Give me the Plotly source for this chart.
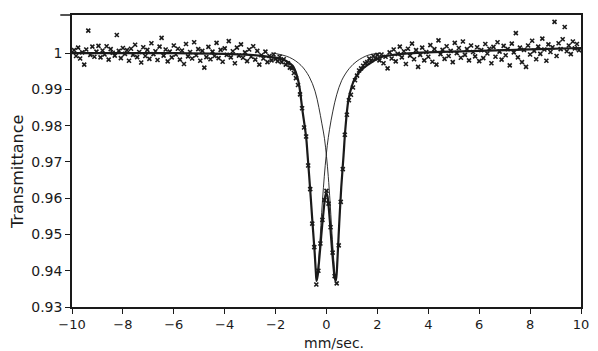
import numpy as np
import plotly.graph_objects as go

# ---- measured spectrum (channel velocities, mm/s) ----
v_start, v_step, n_ch = -9.92, 0.08, 249
velocity = np.round(v_start + v_step * np.arange(n_ch), 2)

transmission = [
    # -9.92 ... -2.00
    1.0008, 0.9992, 1.0015, 0.9985, 1.0002, 0.9968, 1.0010, 1.0062, 0.9995, 1.0018,
    0.9990, 1.0004, 1.0020, 0.9988, 1.0007, 0.9996, 1.0019, 0.9982, 1.0011, 1.0001,
    0.9993, 1.0050, 1.0006, 0.9986, 1.0014, 0.9998, 1.0008, 0.9979, 1.0012, 0.9995,
    1.0023, 0.9989, 1.0003, 0.9974, 1.0016, 0.9992, 1.0009, 0.9984, 1.0027, 0.9997,
    1.0005, 0.9981, 1.0018, 1.0042, 0.9993, 1.0010, 0.9977, 1.0004, 0.9988, 1.0021,
    0.9996, 1.0012, 0.9982, 1.0007, 0.9970, 1.0025, 0.9991, 1.0003, 0.9985, 1.0030,
    0.9994, 1.0011, 0.9979, 1.0006, 0.9960, 0.9989, 1.0017, 0.9983, 1.0004, 0.9992,
    1.0028, 0.9986, 1.0009, 0.9976, 1.0013, 0.9995, 1.0033, 0.9988, 1.0005, 0.9972,
    1.0015, 0.9993, 1.0024, 0.9987, 1.0002, 0.9978, 1.0010, 0.9990, 1.0019, 0.9982,
    1.0006, 0.9968, 0.9994, 0.9985, 1.0004, 0.9975, 0.9992, 0.9980, 0.9996, 0.9984,
    # -1.92 ... 2.00
    0.9978, 0.9990, 0.9975, 0.9983, 0.9968, 0.9972, 0.9960, 0.9958, 0.9945, 0.9931,
    0.9912, 0.9886, 0.9848, 0.9795, 0.9770, 0.9690, 0.9625, 0.9530, 0.9465, 0.9362,
    0.9400, 0.9475, 0.9540, 0.9595, 0.9620, 0.9585, 0.9520, 0.9450, 0.9385, 0.9365,
    0.9470, 0.9590, 0.9680, 0.9775, 0.9830, 0.9870, 0.9885, 0.9905, 0.9925, 0.9938,
    0.9952, 0.9958, 0.9965, 0.9972, 0.9975, 0.9985, 0.9980, 0.9992, 0.9985, 0.9995,
    # 2.08 ... 9.92
    0.9980, 0.9996, 0.9972, 0.9990, 0.9958, 1.0002, 0.9985, 1.0010, 0.9977, 0.9998,
    1.0018, 0.9988, 1.0005, 0.9970, 1.0012, 0.9993, 1.0026, 0.9983, 1.0008, 0.9962,
    0.9995, 1.0015, 0.9980, 1.0003, 0.9990, 1.0022, 0.9976, 1.0011, 0.9968, 1.0035,
    0.9997, 1.0009, 0.9984, 1.0019, 0.9992, 1.0006, 0.9975, 1.0028, 1.0000, 1.0014,
    0.9987, 1.0032, 0.9995, 1.0011, 0.9980, 1.0021, 1.0003, 0.9991, 1.0016, 0.9978,
    1.0008, 0.9986, 1.0025, 0.9999, 1.0012, 0.9972, 1.0017, 0.9990, 1.0030, 1.0004,
    0.9982, 1.0020, 0.9994, 1.0011, 0.9966, 1.0026, 1.0002, 1.0055, 0.9988, 1.0015,
    0.9975, 1.0009, 0.9962, 1.0021, 0.9996, 1.0034, 1.0006, 0.9983, 1.0018, 0.9998,
    1.0040, 1.0010, 0.9979, 1.0024, 1.0003, 1.0016, 1.0086, 0.9992, 1.0027, 1.0011,
    1.0038, 1.0072, 1.0005, 1.0021, 0.9997, 1.0032, 1.0013, 1.0025, 1.0008,
]

# ---- total fit (thick line) ----
fit_v = [-10, -6, -4, -3, -2.5, -2.0, -1.6, -1.33, -1.15, -1.06, -0.95, -0.8, -0.75,
         -0.65, -0.55, -0.47, -0.42, -0.39, -0.35, -0.3, -0.24, -0.17, -0.1, -0.05,
         -0.015, 0.03, 0.08, 0.14, 0.21, 0.27, 0.32, 0.36, 0.39, 0.43, 0.5, 0.58,
         0.67, 0.74, 0.86, 1.0, 1.13, 1.35, 1.63, 2.1, 2.5, 3, 4, 6, 8, 10]
fit_t = [1.0, 1.0, 0.9998, 0.9995, 0.9992, 0.9987, 0.9979, 0.9965, 0.9935, 0.9905,
         0.9845, 0.9768, 0.9725, 0.9632, 0.9532, 0.9455, 0.9398, 0.9372, 0.9385, 0.9420,
         0.9468, 0.9525, 0.9575, 0.9605, 0.9614, 0.9608, 0.9580, 0.9530, 0.9465, 0.9415,
         0.9382, 0.9372, 0.9385, 0.9430, 0.9530, 0.9630, 0.9718, 0.9790, 0.9870, 0.9910,
         0.9932, 0.9952, 0.9968, 0.9988, 0.9994, 0.9998, 1.0002, 1.0006, 1.0010, 1.0014]

# ---- sub-spectra (thin lines) ----
sub1_v = [2.1, 1.63, 1.2, 0.9, 0.6, 0.4, 0.25, 0.12, 0.03, -0.05, -0.12, -0.19,
          -0.25, -0.3, -0.35, -0.39]
sub1_t = [1.0, 0.9994, 0.9978, 0.9958, 0.9925, 0.9885, 0.9840, 0.9790, 0.9745, 0.9690,
          0.9630, 0.9560, 0.9490, 0.9435, 0.9393, 0.9372]
sub2_v = [-2.1, -1.45, -1.0, -0.68, -0.45, -0.3, -0.18, -0.08, 0.0, 0.07, 0.14, 0.2,
          0.26, 0.31, 0.34, 0.36]
sub2_t = [1.0, 0.9988, 0.9966, 0.9935, 0.9895, 0.9850, 0.9805, 0.9765, 0.9715, 0.9660,
          0.9590, 0.9520, 0.9455, 0.9405, 0.9382, 0.9372]

x_ticks = [-10, -8, -6, -4, -2, 0, 2, 4, 6, 8, 10]
x_labels = ["\u221210", "\u22128", "\u22126", "\u22124", "\u22122", "0", "2", "4", "6", "8", "10"]
y_ticks = [0.93, 0.94, 0.95, 0.96, 0.97, 0.98, 0.99, 1.0]
y_labels = ["0.93", "0.94", "0.95", "0.96", "0.97", "0.98", "0.99", "1"]

ink = "#1a1a1a"
x_tick_font = dict(family="DejaVu Sans", size=13, color=ink)
y_tick_font = dict(family="DejaVu Sans", size=14, color=ink)

fig = go.Figure()
fig.add_trace(go.Scatter(x=sub1_v, y=sub1_t, mode="lines", line=dict(color=ink, width=0.9),
                         line_shape="spline", hoverinfo="skip"))
fig.add_trace(go.Scatter(x=sub2_v, y=sub2_t, mode="lines", line=dict(color=ink, width=0.9),
                         line_shape="spline", hoverinfo="skip"))
fig.add_trace(go.Scatter(x=fit_v, y=fit_t, mode="lines", line=dict(color=ink, width=2.2),
                         line_shape="spline", hoverinfo="skip"))
fig.add_trace(go.Scatter(x=velocity, y=transmission, mode="markers",
                         marker=dict(symbol="x-thin", size=4, color=ink,
                                     line=dict(color=ink, width=1.6))))

axis_common = dict(showgrid=False, zeroline=False, showline=True, linecolor=ink,
                   linewidth=1.5, mirror=True, ticks="outside", ticklen=5,
                   tickwidth=1.2, tickcolor=ink)
fig.update_xaxes(range=[-10, 10], tickvals=x_ticks, ticktext=x_labels,
                 tickfont=x_tick_font, **axis_common)
fig.update_yaxes(range=[0.93, 1.0105], tickvals=y_ticks, ticktext=y_labels,
                 tickfont=y_tick_font, **axis_common)

fig.add_annotation(text="Transmittance", xref="paper", yref="paper", x=-0.108, y=0.462,
                   xanchor="center", yanchor="middle", textangle=-90, showarrow=False,
                   font=dict(family="DejaVu Sans", size=16, color=ink))
fig.add_annotation(text="mm/sec.", xref="paper", yref="paper", x=0.5145, y=-0.123,
                   xanchor="center", yanchor="middle", showarrow=False,
                   font=dict(family="DejaVu Sans", size=14, color=ink))
fig.add_shape(type="line", xref="paper", yref="paper", x0=-0.023, x1=0, y0=1, y1=1,
              line=dict(color=ink, width=1.5))

fig.update_layout(width=598, height=351, margin=dict(l=72, r=9, t=15, b=44),
                  paper_bgcolor="white", plot_bgcolor="white", showlegend=False)
fig.write_html("out.html")
